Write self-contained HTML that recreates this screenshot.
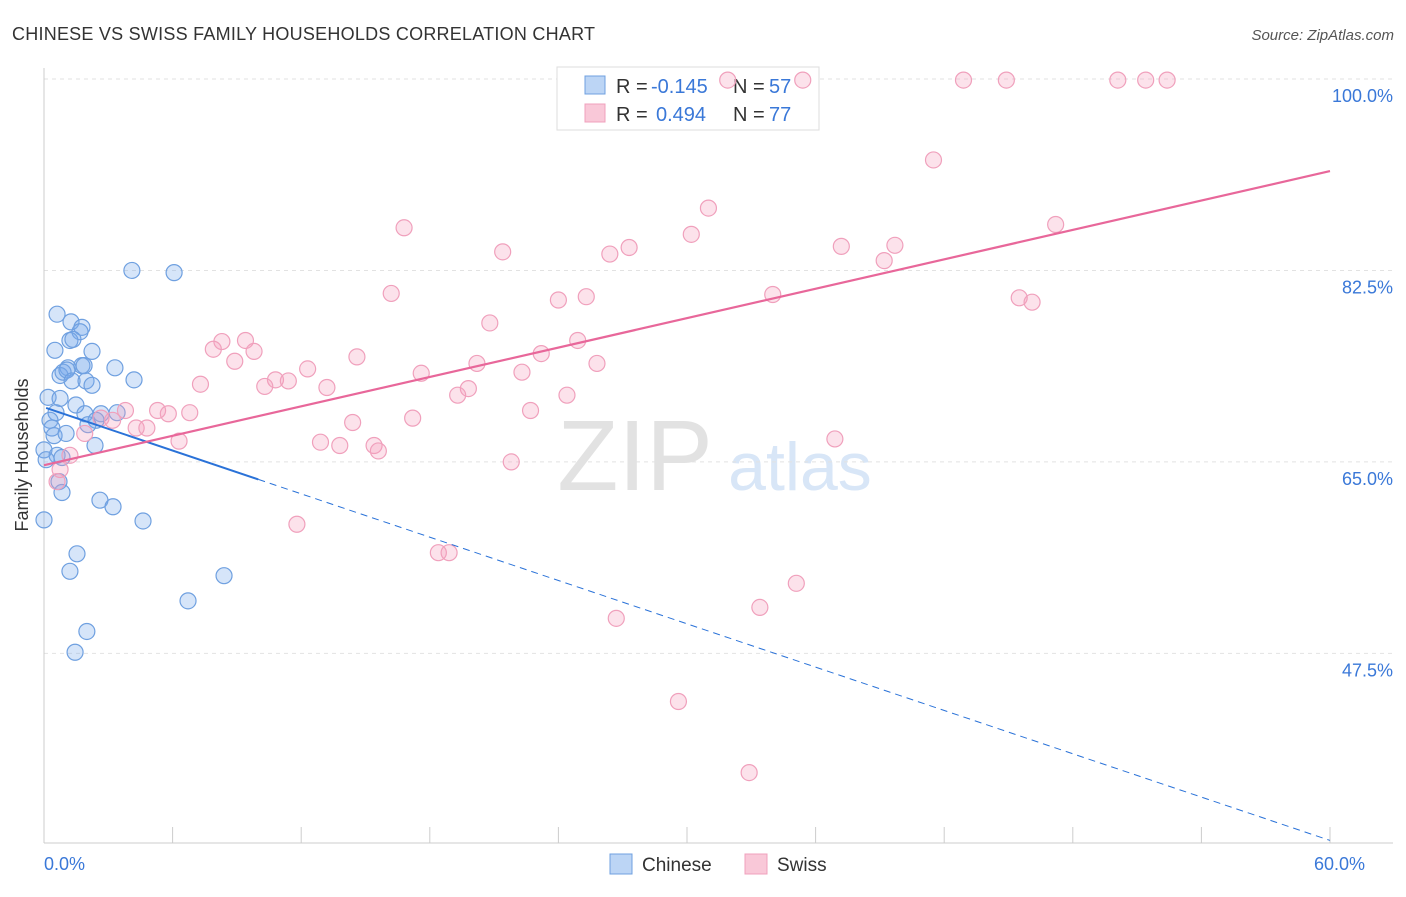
<!DOCTYPE html>
<html><head><meta charset="utf-8"><style>
body{margin:0;background:#fff;font-family:"Liberation Sans",sans-serif;}
svg text{font-family:"Liberation Sans",sans-serif;}
</style></head><body>
<svg id="chart" width="1406" height="892" viewBox="0 0 1406 892" xmlns="http://www.w3.org/2000/svg">
<text x="12" y="40" font-size="18" fill="#333" textLength="583">CHINESE VS SWISS FAMILY HOUSEHOLDS CORRELATION CHART</text>
<text x="1394" y="40" font-size="15" fill="#555" font-style="italic" text-anchor="end">Source: ZipAtlas.com</text>
<g>
<text x="635" y="490" font-size="100" fill="#e2e2e2" font-family="Liberation Serif" text-anchor="middle">ZIP</text>
<text x="800" y="490" font-size="68" fill="#d8e6f7" text-anchor="middle">atlas</text>
</g>
<g id="grid"></g>
<g id="axes"></g>
<g>
<rect x="557" y="67" width="262" height="63" fill="#fff" stroke="#ddd"/>
<rect x="585" y="76" width="20" height="18" fill="#bcd5f5" stroke="#6fa0e0"/>
<rect x="585" y="104" width="20" height="18" fill="#f9c8d8" stroke="#f0a0bc"/>
<text x="616" y="93" font-size="20" fill="#333">R =</text>
<text x="651" y="93" font-size="20" fill="#3a78d8">-0.145</text>
<text x="733" y="93" font-size="20" fill="#333">N =</text>
<text x="769" y="93" font-size="20" fill="#3a78d8">57</text>
<text x="616" y="121" font-size="20" fill="#333">R =</text>
<text x="656" y="121" font-size="20" fill="#3a78d8">0.494</text>
<text x="733" y="121" font-size="20" fill="#333">N =</text>
<text x="769" y="121" font-size="20" fill="#3a78d8">77</text>
</g>
<g id="blue"></g>
<g id="pink"></g>
<g id="lines"></g>
<text x="28" y="455" font-size="18" fill="#333" text-anchor="middle" transform="rotate(-90 28 455)">Family Households</text>
<g>
<rect x="610" y="854" width="22" height="20" fill="#bcd5f5" stroke="#6fa0e0"/>
<text x="642" y="871" font-size="19" fill="#333">Chinese</text>
<rect x="745" y="854" width="22" height="20" fill="#f9c8d8" stroke="#f0a0bc"/>
<text x="777" y="871" font-size="19" fill="#333">Swiss</text>
</g>
</svg>
<script>
const yTicks=[47.5,65.0,82.5,100.0];
const xTickLabels=["0.0%","60.0%"];
const chineseX=[0.61,1.26,1.77,1.68,1.21,1.35,0.51,2.24,1.12,1.77,1.87,0.75,0.89,1.07,3.31,4.2,1.31,1.96,2.24,0.19,0.75,1.49,0.56,1.91,2.66,3.41,2.43,0.28,0.37,0.47,1.03,2.38,0,0.61,0.84,0.7,0.84,2.61,3.22,0,4.62,1.54,1.21,8.4,6.72,2.0,1.45,4.1,6.07,0.1,2.05];
const chineseY=[78.5,77.8,77.3,76.9,76.1,76.2,75.2,75.1,73.6,73.8,73.8,72.9,73.2,73.4,73.6,72.5,72.4,72.4,72.0,70.9,70.8,70.2,69.5,69.4,69.4,69.5,68.8,68.8,68.1,67.4,67.6,66.5,66.1,65.6,65.4,63.2,62.2,61.5,60.9,59.7,59.6,56.6,55.0,54.6,52.3,49.5,47.6,82.5,82.3,65.2,68.4];
const swissX=[31.9,35.4,42.9,44.9,50.1,51.4,52.4,41.5,31.0,16.8,47.2,30.2,27.3,26.4,21.4,37.2,39.7,39.2,16.2,25.3,24.0,34.0,45.5,46.1,20.8,8.3,9.4,7.9,9.8,8.9,14.6,23.2,24.9,25.8,20.2,12.3,17.6,22.3,10.8,11.4,10.3,7.3,13.2,19.8,19.3,24.4,22.7,5.3,5.8,6.8,3.8,3.2,2.66,4.3,4.8,14.4,17.2,1.9,6.3,12.9,13.8,15.4,15.6,36.9,1.21,21.8,0.75,11.8,18.4,18.9,35.1,33.4,26.7,29.6,32.9,0.61];
const swissY=[99.9,99.9,99.9,99.9,99.9,99.9,99.9,92.6,88.2,86.4,86.7,85.8,84.6,84.0,84.2,84.7,84.8,83.4,80.4,80.1,79.8,80.3,80.0,79.6,77.7,76.0,76.1,75.3,75.1,74.2,74.6,74.9,76.1,74.0,74.0,73.5,73.1,73.2,72.5,72.4,71.9,72.1,71.8,71.7,71.1,71.1,69.7,69.7,69.4,69.5,69.7,68.8,69.0,68.1,68.1,68.6,69.0,67.6,66.9,66.8,66.5,66.5,66.0,67.1,65.6,65.0,64.3,59.3,56.7,56.7,53.9,51.7,50.7,43.1,36.6,63.2];
const chineseTrend=[70.0,-0.66];
const swissTrend=[64.7,0.448];
const NS="http://www.w3.org/2000/svg";
const X=v=>44+v*(1286/60);
const Y=v=>79+(100-v)*10.94;
function mk(tag,attrs,parent){const e=document.createElementNS(NS,tag);for(const k in attrs)e.setAttribute(k,attrs[k]);parent.appendChild(e);return e;}
const grid=document.getElementById('grid'),axes=document.getElementById('axes');
yTicks.forEach(t=>{
 const l=mk('line',{x1:44,x2:1393,y1:Y(t),y2:Y(t),stroke:'#e2e2e2','stroke-dasharray':'4 4'},grid);
 
 
 const tx=mk('text',{x:1393,y:Y(t)+23,'font-size':18,fill:'#3a78d8','text-anchor':'end'},axes);
 tx.textContent=t.toFixed(1)+'%';
 
 
});
mk('line',{x1:44,x2:44,y1:68,y2:843,stroke:'#ccc'},axes);
mk('line',{x1:44,x2:1393,y1:843,y2:843,stroke:'#ccc'},axes);
for(let i=0;i<=10;i++){const t=mk('line',{x1:X(i*6),x2:X(i*6),y1:827,y2:843,stroke:'#ccc'},axes);
 
 }
[[0,'start'],[60,'end']].forEach((p,i)=>{const t=mk('text',{x:X(p[0])+(i?35:0),y:870,'font-size':18,fill:'#3a78d8','text-anchor':p[1]},axes);t.textContent=xTickLabels[i];
 
 });
function pts(xs,ys,g,fill,stroke,name){xs.forEach((x,i)=>{const c=mk('circle',{cx:X(x),cy:Y(ys[i]),r:8,fill:fill,stroke:stroke,'stroke-width':1.2},g);
 
 });}
pts(chineseX,chineseY,document.getElementById('blue'),'rgba(120,170,235,0.3)','#6fa0e0','chinese-point');
pts(swissX,swissY,document.getElementById('pink'),'rgba(245,160,190,0.3)','#f0a0bc','swiss-point');
const lg=document.getElementById('lines');
const cf=x=>chineseTrend[0]+chineseTrend[1]*x, sf=x=>swissTrend[0]+swissTrend[1]*x;
const b1=mk('line',{x1:X(0.1),y1:Y(cf(0.1)),x2:X(10),y2:Y(cf(10)),stroke:'#2a72d8','stroke-width':2},lg);


const b2=mk('line',{x1:X(10),y1:Y(cf(10)),x2:X(60),y2:Y(cf(60)),stroke:'#2a72d8','stroke-width':1,'stroke-dasharray':'7 5'},lg);


const s1=mk('line',{x1:X(0),y1:Y(sf(0)),x2:X(60),y2:Y(sf(60)),stroke:'#e8679a','stroke-width':2.2},lg);


</script>
</body></html>
